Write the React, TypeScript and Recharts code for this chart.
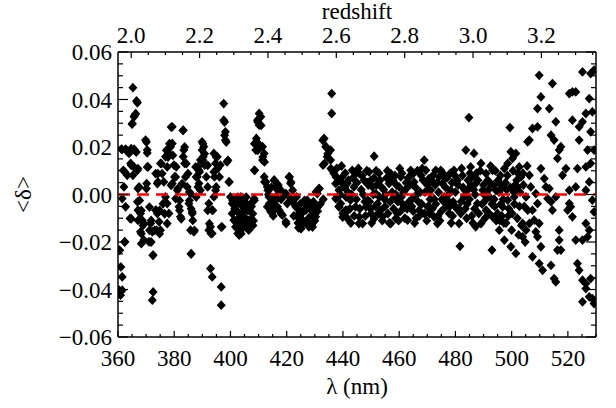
import { ScatterChart, Scatter, XAxis, YAxis, Label, ReferenceLine } from 'recharts';

// <δ> against wavelength in wavelength segments: [λ nm, δ]
const seg360: [number, number][] = [
  [365.3, 0.045], [366.6, 0.0394], [366.9, 0.0386], [366.3, 0.034], [365.7, 0.0327], [365.1, 0.0299],
  [361.2, 0.0191], [362.7, 0.0191], [364.3, 0.0187], [365.7, 0.0191], [363.9, 0.0173], [361.5, 0.019],
  [360.4, -0.0234], [361.0, -0.0305], [361.5, -0.0347], [360.4, -0.0403], [360.9, -0.0424], [361.5, -0.0403], [360.2, -0.041],
  [362.4, -0.0199], [364.5, 0.0131], [365.7, 0.0116], [366.9, 0.0102], [361.9, 0.0102], [363.3, 0.0081],
  [362.1, 0.0032], [361.5, -0.0017], [362.7, -0.0052], [364.3, -0.0101],
  [367.5, 0.0032], [366.9, -0.0031], [367.1, -0.0066], [368.0, -0.008],
  [369.8, 0.0229], [370.4, 0.0187], [370.4, 0.0116], [370.2, 0.0046],
  [368.6, -0.0108], [369.2, -0.0122], [368.0, -0.0157], [369.2, -0.0192],
  [371.6, -0.0122], [372.2, -0.0157], [371.0, -0.0199], [372.5, -0.0255],
  [372.5, -0.041], [372.2, -0.0445],
  [373.4, -0.0066], [374.0, -0.008], [375.1, -0.015], [374.6, -0.0115], [373.7, -0.015],
  [373.4, 0.0088], [374.0, 0.0046], [375.1, 0.0131], [375.7, 0.0088],
  [377.5, 0.0187], [376.9, 0.0159], [378.1, 0.0173], [378.7, 0.0201], [379.3, 0.0215],
  [377.5, 0.0116], [376.3, 0.0053], [376.9, -0.001], [377.5, -0.0038], [378.1, -0.008], [377.5, -0.0122],
  [379.3, 0.0285], [379.9, 0.0124], [380.5, 0.0074], [379.3, 0.0046],
  [381.1, 0.0018], [380.5, -0.0017], [381.7, -0.0052], [382.2, -0.0094],
  [383.2, 0.0271], [383.4, 0.0187], [383.2, 0.0159], [383.7, 0.0131],
  [384.0, 0.0074], [382.8, 0.0046], [384.6, 0.0032],
  [385.8, 0.0004], [385.2, -0.0038], [386.4, -0.0073], [385.8, -0.015], [387.0, -0.0157], [386.4, -0.008],
  [386.0, -0.0251], [387.6, 0.0116], [388.2, 0.0074], [388.8, 0.0102],
  [389.9, 0.0222], [390.5, 0.0201], [389.9, 0.0187], [390.3, 0.0159], [389.3, 0.0145], [390.8, 0.0124],
  [388.8, 0.0046], [389.3, 0.0018], [392.3, -0.0038], [393.5, -0.0066],
  [392.9, -0.0136], [392.3, -0.015], [393.5, -0.0164], [392.9, -0.0312], [393.5, -0.0347],
  [394.1, 0.0173], [394.7, 0.0131], [395.3, 0.0159], [396.4, 0.0124], [394.1, 0.0095],
  [398.8, 0.0138], [399.4, 0.0053], [394.1, -0.001], [394.7, 0.0018], [397.0, -0.0136],
  [397.6, 0.0383], [397.6, 0.0313], [398.2, 0.0264], [398.2, 0.0229],
  [396.7, -0.0389], [396.7, -0.0466],
  [400.0, -0.001], [400.6, -0.0038], [400.6, -0.008], [401.2, -0.0108], [401.8, -0.0136], [402.6, -0.0164],
];

// second, closer reading of 360–400 nm
const seg360b: [number, number][] = [
  [365.9, 0.0333], [365.0, 0.0296], [363.0, 0.0186], [364.7, 0.0193], [365.9, 0.0186], [362.4, 0.0095],
  [364.7, 0.0123], [365.3, 0.0081], [367.1, 0.0109], [366.5, 0.0179], [370.1, 0.0221], [370.4, 0.0175],
  [370.7, 0.0116], [367.1, 0.0025], [370.1, 0.0025], [367.7, -0.0025], [368.3, -0.0067], [367.1, -0.0109],
  [368.9, -0.013], [368.3, -0.0165], [368.3, -0.0207], [364.7, -0.0102], [362.4, -0.02], [360.6, -0.0235],
  [371.2, -0.0053], [371.8, -0.0109], [373.0, -0.0151], [371.2, -0.0151], [371.8, -0.02], [374.8, -0.0165],
  [372.4, -0.0256], [374.2, 0.0088], [375.4, 0.013], [374.2, 0.0053], [374.8, -0.0067], [376.0, -0.0039],
  [376.6, -0.0081], [373.6, -0.0067], [377.2, 0.0186], [378.3, 0.0214], [377.8, 0.0158], [378.9, 0.0284],
  [379.5, 0.0165], [380.7, 0.0116], [380.1, 0.0074], [378.9, 0.0039], [381.3, 0.0025], [381.9, -0.0025],
  [381.9, -0.0067], [382.5, -0.0102], [383.1, 0.027], [383.7, 0.02], [384.3, 0.013], [384.9, 0.0088],
  [385.4, 0.0011], [385.4, -0.0025], [386.0, -0.006], [387.2, -0.0151], [386.0, -0.0249], [386.6, -0.0109],
  [387.8, -0.0011], [388.4, 0.0032], [387.8, 0.0074], [389.0, 0.0095], [388.4, 0.0116], [390.2, 0.0214],
  [390.8, 0.0172], [390.2, 0.0144], [391.9, 0.0123], [391.4, 0.0074], [391.9, 0.0032], [391.9, -0.0067],
  [392.5, -0.0123], [393.7, -0.0067], [393.1, -0.0165], [394.9, 0.0158], [395.5, 0.0109], [396.1, 0.0074],
  [394.3, 0.0074], [394.9, 0.0032], [397.9, 0.0305], [397.9, 0.0249], [398.5, 0.0221], [399.1, 0.0144],
  [399.6, 0.0053], [396.7, -0.0137],
];

const seg400: [number, number][] = [
  [402.5, -0.0038], [403.7, -0.001], [404.3, -0.0052], [403.1, -0.008], [404.9, -0.0094], [406.0, -0.0066],
  [406.6, -0.0108], [407.2, -0.0122], [405.5, -0.0136], [403.7, -0.015], [403.1, -0.0171], [407.8, -0.008],
  [408.4, -0.0017], [407.2, -0.0038], [404.0, -0.003], [405.0, -0.012], [408.0, -0.013],
  [400.8, -0.0025], [402.0, -0.0067], [403.2, -0.0095], [404.4, -0.0039], [406.2, -0.0067], [407.3, -0.0109],
  [405.0, -0.013], [402.6, -0.013], [401.4, -0.0109], [403.8, -0.0165], [406.7, -0.0144], [408.5, -0.0025],
  [407.9, -0.0081], [405.6, -0.0011], [402.6, -0.0011],
  [401.5, -0.006], [402.2, -0.014], [403.5, -0.011], [404.6, -0.007], [405.8, -0.004], [406.5, -0.015],
  [407.5, -0.005], [408.2, -0.011],
  [410.2, 0.0341], [410.8, 0.0327], [409.6, 0.0313], [410.2, 0.0292], [409.2, 0.0236], [409.9, 0.0215],
  [409.0, 0.0187], [411.4, 0.0201], [412.0, 0.0173], [411.4, 0.0145], [408.6, 0.0102],
  [409.7, 0.0305], [410.9, 0.0291], [408.5, 0.0214], [409.7, 0.0186], [411.5, 0.0158], [412.1, 0.0137], [408.5, 0.0102],
  [412.0, 0.0074], [412.6, 0.0053], [413.1, 0.0032],
  [413.7, -0.001], [414.9, -0.0038], [416.1, -0.001], [416.7, -0.0052], [415.5, 0.006], [416.1, 0.0032],
  [417.3, -0.0066], [414.3, -0.0073], [413.1, -0.0052], [415.0, -0.006], [418.0, -0.002], [417.8, 0.002],
  [412.1, 0.0053], [413.3, 0.0018], [415.6, 0.006], [416.8, 0.0018], [413.8, -0.0039], [415.6, -0.0067],
  [418.0, -0.0081], [419.8, -0.0123], [421.0, 0.0074], [421.5, 0.0053], [422.1, 0.0018], [419.2, -0.0003], [414.4, -0.0011],
  [413.5, 0.0], [414.5, 0.003], [415.2, -0.009], [416.4, -0.002], [417.0, 0.004],
  [418.5, -0.0087], [419.7, -0.0115], [420.2, -0.0038], [421.4, -0.0017], [420.8, 0.0074], [421.4, 0.0046], [419.7, 0.0004],
  [423.2, -0.0052], [424.4, -0.008], [425.6, -0.0108], [426.8, -0.0066], [427.9, -0.0136], [425.0, -0.0143],
  [429.1, -0.0122], [430.3, -0.0094], [427.3, -0.0024], [430.9, 0.0004], [431.5, 0.0025], [429.7, -0.0052],
  [426.2, -0.0038], [422.5, -0.009], [424.0, -0.012], [428.5, -0.009], [426.0, -0.012], [422.0, -0.003],
  [432.0, -0.004], [431.0, -0.007], [433.0, -0.002],
  [422.7, -0.0039], [424.5, -0.0067], [425.7, -0.0109], [425.1, -0.0144], [427.5, -0.0123], [429.2, -0.0137],
  [429.8, -0.0081], [428.0, -0.0039], [426.3, -0.0025], [423.9, -0.0095], [431.0, -0.0053], [430.4, 0.0011], [431.6, 0.0025],
  [423.5, -0.001], [424.8, -0.004], [425.3, -0.008], [426.5, -0.006], [427.0, -0.011], [428.3, -0.006],
  [429.5, -0.003], [430.0, -0.011], [428.8, -0.013], [424.2, -0.014],
  [436.0, 0.0425], [436.0, 0.0341], [433.3, 0.0236], [433.9, 0.0201], [435.6, 0.0187], [434.4, 0.0159],
  [435.6, 0.0145], [432.9, 0.0124], [436.2, 0.0102], [436.8, 0.0088],
  [432.8, 0.0228], [434.0, 0.02], [434.6, 0.0172], [433.4, 0.013], [435.7, 0.0109],
  [437.4, 0.0046], [438.6, 0.0018], [439.8, 0.0074], [441.5, 0.0046], [443.3, 0.0102], [444.5, 0.0088],
  [439.2, -0.0038], [441.0, -0.0066], [442.7, -0.0024], [444.5, -0.0052], [437.4, -0.0017], [445.7, -0.0122],
  [443.9, 0.0032], [438.0, 0.007], [439.0, 0.0], [440.0, -0.008], [440.5, 0.003], [441.5, -0.01],
  [442.0, 0.006], [442.5, -0.006], [443.0, 0.0], [444.0, -0.009], [445.0, 0.005], [438.5, -0.005],
  [437.8, 0.011], [439.5, 0.012], [437.5, 0.0074], [439.3, 0.0053], [440.5, 0.0032], [438.1, -0.0011],
  [441.1, -0.0011], [438.7, -0.0053], [441.7, -0.0067], [439.9, -0.0095],
  [440.8, 0.009], [441.8, 0.001], [442.8, -0.012], [443.5, 0.007], [444.8, -0.002], [445.5, 0.011],
];

const seg445: [number, number][] = [
  [445.8, 0.0088], [445.8, -0.0094], [447.0, -0.0122], [448.2, -0.0052], [449.3, 0.0095], [449.9, 0.006],
  [450.5, 0.0032], [451.7, 0.0004], [448.8, -0.0024], [452.3, -0.0038], [453.5, -0.0066], [454.1, -0.0094],
  [451.1, -0.0101], [451.1, 0.0161],
  [457.0, 0.0088], [456.4, 0.0046], [458.2, -0.001], [457.0, -0.0122], [458.8, -0.0101], [460.6, 0.0074],
  [460.0, 0.0032], [463.0, -0.0108], [461.8, -0.0052], [464.1, 0.0102], [465.3, 0.0053], [464.7, -0.0017], [467.1, -0.0066],
  [468.9, 0.0145], [469.5, 0.0102], [470.6, 0.0067], [471.2, 0.0018], [470.1, -0.0052], [472.4, -0.0094],
  [473.6, -0.0122], [474.2, 0.0074], [475.4, 0.0046], [476.0, -0.001], [476.6, -0.0052], [474.8, 0.0102], [473.0, 0.0102],
  [479.5, 0.0102], [480.7, 0.006], [480.1, -0.0052], [481.9, -0.008], [481.3, -0.0122], [483.1, -0.001],
  [483.7, 0.0187], [484.8, 0.0324], [486.6, 0.0173], [485.4, 0.0116], [486.0, 0.0074], [487.2, 0.0046],
  [487.8, -0.0038], [487.2, -0.0136], [481.6, -0.0218], [484.3, 0.0018], [478.3, 0.0018], [477.2, -0.0024],
  [446.5, 0.002], [447.5, 0.006], [448.5, 0.01], [449.5, -0.003], [450.0, -0.008], [451.0, 0.007],
  [452.0, 0.004], [452.8, 0.009], [453.0, -0.001], [454.5, 0.002], [455.0, -0.005], [455.5, 0.007],
  [456.0, -0.008], [457.5, 0.001], [458.0, -0.006], [459.0, 0.004], [459.5, -0.003], [460.5, -0.007],
  [461.0, 0.009], [461.5, 0.001], [462.0, -0.01], [462.5, 0.005], [463.5, -0.003], [464.0, 0.008],
  [465.0, -0.007], [465.8, 0.003], [466.0, -0.01], [466.5, 0.01], [467.5, 0.001], [468.0, -0.004],
  [468.5, 0.006], [469.0, -0.008], [470.0, 0.004], [471.0, -0.002], [471.8, -0.006], [472.0, 0.008],
  [473.0, -0.004], [474.0, 0.001], [475.0, -0.007], [475.5, 0.009], [476.5, 0.003], [477.0, 0.007],
  [478.0, -0.005], [478.8, 0.005], [479.0, -0.009], [480.0, 0.001], [481.0, 0.004], [482.0, -0.003],
  [482.5, 0.008], [483.5, -0.006], [484.5, 0.006], [485.0, -0.002], [485.8, -0.009], [486.5, 0.002], [487.5, 0.009],
  [446.0, -0.006], [447.2, 0.0], [448.0, -0.009], [449.0, 0.004], [450.2, -0.012], [451.5, -0.005],
  [453.2, 0.006], [454.0, -0.011], [455.2, 0.0], [456.8, -0.003], [458.5, 0.008], [459.8, -0.011],
  [460.8, -0.001], [462.8, -0.006], [463.8, 0.004], [465.5, -0.012], [466.8, -0.003], [467.8, 0.008],
  [469.8, -0.011], [470.8, -0.008], [472.8, 0.004], [473.8, -0.009], [475.8, -0.003], [477.5, 0.0],
  [478.5, -0.012], [479.8, 0.008], [480.5, -0.006], [482.8, 0.003], [484.0, -0.01], [485.5, 0.004],
  [486.8, -0.006], [488.0, 0.006],
  [446.8, 0.008], [447.8, -0.003], [448.8, 0.005], [449.8, -0.006], [450.8, 0.0], [451.8, 0.01],
  [452.5, -0.008], [453.8, 0.003], [454.8, -0.002], [455.8, 0.01], [456.5, -0.012], [457.8, 0.006],
  [458.8, 0.0], [459.3, -0.008], [460.2, 0.011], [461.2, -0.004], [462.2, 0.002], [463.2, 0.007],
  [464.5, -0.005], [465.2, 0.009], [466.2, 0.0], [467.2, -0.009], [468.2, 0.011], [469.2, 0.001],
  [470.5, -0.005], [471.5, 0.006], [472.5, -0.002], [473.5, 0.005], [474.5, -0.011], [475.2, -0.002],
  [476.2, 0.007], [477.8, -0.008], [478.2, 0.009], [479.2, -0.003], [480.2, 0.005], [481.2, -0.006],
  [482.2, 0.011], [483.2, 0.002], [484.2, -0.004], [485.2, 0.009], [486.2, -0.012], [487.0, 0.0],
];

const seg490: [number, number][] = [
  [489.1, 0.0131], [490.9, 0.0088], [493.2, 0.0102], [489.7, 0.0018], [492.1, -0.001], [494.4, 0.0018],
  [495.6, 0.0046], [497.4, 0.0109], [498.6, 0.0131], [499.7, 0.018], [500.3, 0.0152], [501.5, 0.0173],
  [502.7, 0.0116], [503.3, 0.0074], [502.1, 0.0032], [500.9, -0.001], [498.6, -0.0024], [496.8, -0.0052],
  [495.0, -0.008], [493.2, -0.0094], [490.9, -0.0066], [489.1, -0.0122], [495.6, -0.015], [497.4, -0.0192],
  [499.7, -0.022], [501.5, -0.0248], [493.0, -0.0234], [503.9, -0.0178], [505.1, -0.015], [506.3, -0.0122],
  [505.7, -0.0066], [505.1, -0.001], [506.8, 0.0032], [506.3, 0.0081], [503.9, -0.0122], [499.4, 0.0282],
  [490.0, 0.004], [491.0, -0.002], [491.5, 0.006], [492.0, -0.008], [492.5, 0.012], [493.5, 0.004],
  [494.0, -0.005], [494.5, -0.011], [495.5, 0.001], [496.0, 0.008], [496.5, -0.009], [497.0, -0.002],
  [497.8, 0.005], [498.0, -0.012], [498.5, 0.008], [499.0, -0.006], [499.5, 0.003], [500.0, -0.015],
  [500.5, 0.01], [501.0, -0.004], [501.8, 0.006], [502.0, -0.01], [502.5, -0.017], [503.0, 0.001],
  [504.0, 0.009], [504.5, -0.005], [505.5, 0.012], [504.8, -0.02], [503.5, -0.013],
  [489.5, -0.004], [490.5, -0.01], [491.8, 0.002], [493.8, -0.002], [495.2, 0.006], [496.2, -0.004],
  [497.2, -0.012], [498.2, 0.002], [500.2, -0.008], [501.2, 0.004], [502.8, -0.005], [504.2, 0.004],
  [488.3, -0.008], [488.8, 0.01], [490.2, 0.0], [491.2, -0.007], [492.2, 0.005], [493.0, -0.004],
  [494.2, 0.01], [495.8, -0.011], [496.8, 0.003], [498.8, -0.009], [500.8, 0.001], [502.2, 0.009],
];

const seg507: [number, number][] = [
  [509.8, 0.0502], [514.5, 0.0467], [510.4, 0.0411], [509.2, 0.0362], [513.4, 0.0362],
  [507.4, 0.0278], [509.2, 0.0285], [506.3, 0.0229], [505.7, 0.0222],
  [515.7, 0.0306], [514.0, 0.025], [515.1, 0.0229], [517.5, 0.0201], [516.9, 0.0187], [516.3, 0.0152],
  [510.4, 0.0109], [511.6, 0.0067], [512.2, 0.0032], [513.4, 0.0025], [512.8, -0.0017], [514.0, -0.0031],
  [515.7, -0.001], [514.5, -0.0066],
  [508.6, 0.0004], [509.2, -0.0038], [507.4, -0.0066], [508.0, -0.0108], [509.8, -0.0122], [508.6, -0.0157],
  [509.2, -0.0178], [510.4, -0.022], [507.4, -0.0262], [509.8, -0.0291], [511.0, -0.0319],
  [514.0, -0.0298], [515.1, -0.0354], [515.7, -0.0368], [517.5, -0.0234], [516.9, -0.0192], [516.9, -0.015],
  [519.3, 0.0109], [518.1, 0.0081], [520.5, -0.0038], [521.0, -0.0052], [519.9, -0.0066], [521.6, -0.0094],
  [522.8, 0.0032], [520.5, 0.0018], [523.4, 0.0109], [521.6, 0.0313], [524.0, 0.0229], [524.0, 0.0285],
  [522.8, 0.0432], [521.6, 0.0432], [520.5, 0.0425],
  [525.2, 0.0516], [528.1, 0.0509], [529.3, 0.0524], [527.6, 0.0404], [526.4, 0.0341], [528.7, 0.0348],
  [528.1, 0.0264], [525.2, 0.0306], [527.0, 0.0187], [529.3, 0.0187], [526.4, 0.0116], [528.1, 0.0131],
  [527.6, 0.0053], [526.4, 0.0018], [528.7, -0.0024], [526.4, -0.0122], [527.6, -0.015], [527.0, -0.0178],
  [525.2, -0.0192], [529.3, -0.0073], [522.8, -0.0192], [523.4, -0.0291], [524.0, -0.0319], [525.2, -0.0361],
  [526.4, -0.0375], [528.1, -0.0354], [528.7, -0.0438], [525.2, -0.0452], [527.6, -0.0431], [526.4, -0.0396],
  [529.3, -0.0459], [516.3, -0.0234],
];

const zeroLine = [{ x: 360, y: 0 }, { x: 530, y: 0 }];

const lambdaTicks = [360, 380, 400, 420, 440, 460, 480, 500, 520];
const redshiftTicks = ['2.0', '2.2', '2.4', '2.6', '2.8', '3.0', '3.2'];
const deltaTicks = [-0.06, -0.04, -0.02, 0, 0.02, 0.04, 0.06];

const LYA = 121.567;
const FONT = '"Liberation Serif", "DejaVu Serif", serif';
const FS = 23;
const AXIS = { stroke: '#000', strokeWidth: 1.5 };
const DASH = { stroke: '#ff0000', strokeWidth: 2.2, strokeDasharray: '12 7' };

const points = [...seg360, ...seg360b, ...seg400, ...seg445, ...seg490, ...seg507].map(([l, d]) => ({ x: l, y: d }));

// minor ticks every 5 nm, every 0.05 in z, every 0.005 in delta
const lambdaMinor: number[] = [];
for (let v = 360; v <= 530; v += 5) lambdaMinor.push(v);
const zMinor: number[] = [];
for (let i = 40; i <= 67; i++) zMinor.push(LYA * (1 + i * 0.05));
const deltaMinor: number[] = [];
for (let i = -12; i <= 12; i++) deltaMinor.push(i * 0.005);

const near = (a: number, b: number) => Math.abs(a - b) < 1e-6;
const fmtDelta = (v: number) => (v < -1e-9 ? '\u2212' : '') + Math.abs(v).toFixed(2);

function Diamond(props: any) {
  const { cx, cy } = props;
  if (cx == null || cy == null) return null;
  return <path d={`M${cx},${cy - 4.9}L${cx + 4.5},${cy}L${cx},${cy + 4.9}L${cx - 4.5},${cy}Z`} fill="#000" />;
}

const NoMark = () => null;

function BottomTick({ x, y, payload }: any) {
  const major = lambdaTicks.some(t => near(t, payload.value));
  return (
    <g>
      <line x1={x} x2={x} y1={y} y2={y - (major ? 6 : 3)} stroke="#000" strokeWidth={1.2} />
      {major && (
        <text x={x} y={y + 29} textAnchor="middle" fontFamily={FONT} fontSize={FS} fill="#000">{payload.value}</text>
      )}
    </g>
  );
}

function TopTick({ x, y, payload }: any) {
  const z = payload.value / LYA - 1;
  const label = redshiftTicks.find(t => Math.abs(parseFloat(t) - z) < 1e-4);
  return (
    <g>
      <line x1={x} x2={x} y1={y} y2={y + (label ? 6 : 3)} stroke="#000" strokeWidth={1.2} />
      {label && (
        <text x={x} y={y - 9} textAnchor="middle" fontFamily={FONT} fontSize={FS} fill="#000">{label}</text>
      )}
    </g>
  );
}

function LeftTick({ x, y, payload }: any) {
  const major = deltaTicks.some(t => near(t, payload.value));
  return (
    <g>
      <line x1={x} x2={x + (major ? 10 : 5)} y1={y} y2={y} stroke="#000" strokeWidth={1.2} />
      {major && (
        <text x={x - 6} y={y + 8} textAnchor="end" fontFamily={FONT} fontSize={FS} fill="#000">{fmtDelta(payload.value)}</text>
      )}
    </g>
  );
}

function RightTick({ x, y, payload }: any) {
  const major = deltaTicks.some(t => near(t, payload.value));
  return <line x1={x} x2={x - (major ? 10 : 5)} y1={y} y2={y} stroke="#000" strokeWidth={1.2} />;
}

export default function App() {
  return (
    <div style={{ position: 'absolute', left: 0, top: 0, width: 616, height: 408, background: '#fff', fontFamily: FONT }}>
      <ScatterChart width={616} height={408} margin={{ top: 0, right: 0, bottom: 0, left: 0 }}>
        <XAxis
          xAxisId="bottom" type="number" dataKey="x" domain={[360, 530]} allowDataOverflow
          ticks={lambdaMinor} interval={0} height={71} tickSize={0} tickMargin={0}
          tickLine={false} axisLine={AXIS} tick={BottomTick}
        >
          <Label content={({ viewBox }: any) => (
            <text x={viewBox.x + viewBox.width / 2} y={viewBox.y + 57} textAnchor="middle"
              fontFamily={FONT} fontSize={FS} fill="#000">λ (nm)</text>
          )} />
        </XAxis>
        <XAxis
          xAxisId="top" orientation="top" type="number" dataKey="x" domain={[360, 530]} allowDataOverflow
          ticks={zMinor} interval={0} height={52} tickSize={0} tickMargin={0}
          tickLine={false} axisLine={AXIS} tick={TopTick}
        >
          <Label content={({ viewBox }: any) => (
            <text x={viewBox.x + viewBox.width / 2} y={viewBox.y + 19} textAnchor="middle"
              fontFamily={FONT} fontSize={FS} fill="#000">redshift</text>
          )} />
        </XAxis>
        <YAxis
          yAxisId="left" type="number" dataKey="y" domain={[-0.06, 0.06]} allowDataOverflow
          ticks={deltaMinor} interval={0} width={118} tickSize={0} tickMargin={0}
          tickLine={false} axisLine={AXIS} tick={LeftTick}
        >
          <Label content={({ viewBox }: any) => {
            const cx = viewBox.x + 23;
            const cy = viewBox.y + viewBox.height / 2;
            return (
              <text x={cx} y={cy} transform={`rotate(-90 ${cx} ${cy})`} textAnchor="middle" dominantBaseline="central"
                fontFamily={FONT} fontSize={FS} fill="#000">{'<δ>'}</text>
            );
          }} />
        </YAxis>
        <YAxis
          yAxisId="right" orientation="right" type="number" dataKey="y" domain={[-0.06, 0.06]} allowDataOverflow
          ticks={deltaMinor} interval={0} width={20} tickSize={0} tickMargin={0}
          tickLine={false} axisLine={AXIS} tick={RightTick}
        />
        {/* invisible copy so the redshift / right axes get a scale */}
        <Scatter data={points} xAxisId="top" yAxisId="right" shape={NoMark} isAnimationActive={false} />
        <Scatter data={points} xAxisId="bottom" yAxisId="left" shape={Diamond} isAnimationActive={false} zIndex={600} />
        {/* dashed zero line, kept above the points */}
        <Scatter
          data={zeroLine} xAxisId="bottom" yAxisId="left" shape={NoMark} isAnimationActive={false}
          line={DASH} zIndex={1500}
        />
        <ReferenceLine y={0} xAxisId="bottom" yAxisId="left" {...DASH} zIndex={1600} />
      </ScatterChart>
    </div>
  );
}
